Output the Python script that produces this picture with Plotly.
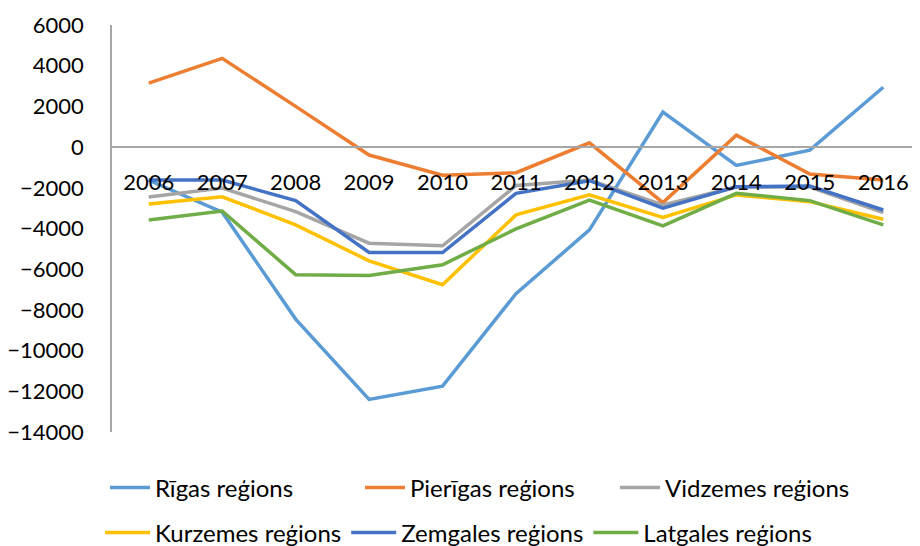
import plotly.graph_objects as go

years = ["2006", "2007", "2008", "2009", "2010", "2011", "2012", "2013", "2014", "2015", "2016"]

rigas = [-1630, -3200, -8450, -12400, -11750, -7200, -4070, 1720, -900, -150, 2940]
pierigas = [3140, 4360, 2000, -390, -1380, -1260, 210, -2730, 590, -1320, -1620]
vidzemes = [-2450, -2010, -3170, -4720, -4850, -1890, -1620, -2840, -1960, -1960, -3220]
kurzemes = [-2800, -2440, -3820, -5590, -6760, -3330, -2350, -3460, -2350, -2680, -3545]
zemgales = [-1620, -1620, -2630, -5180, -5180, -2270, -1650, -3000, -1950, -1910, -3090]
latgales = [-3580, -3140, -6270, -6310, -5780, -4020, -2600, -3870, -2270, -2630, -3820]

names = ["Rīgas reģions", "Pierīgas reģions", "Vidzemes reģions",
         "Kurzemes reģions", "Zemgales reģions", "Latgales reģions"]
series = [rigas, pierigas, vidzemes, kurzemes, zemgales, latgales]
colors = ["#5B9BD5", "#ED7D31", "#A5A5A5", "#FFC000", "#4472C4", "#70AD47"]
legend_ids = ["legend", "legend", "legend", "legend2", "legend2", "legend2"]

FONT = "Lato"
W, H = 912, 538  # page body adds an 8px offset

fig = go.Figure()
for name, vals, col, lg in zip(names, series, colors, legend_ids):
    fig.add_trace(go.Scatter(
        x=years, y=vals, name=name, mode="lines",
        line=dict(color=col, width=3.5),
        legend=lg,
    ))

fig.update_layout(
    width=W, height=H,
    margin=dict(l=104, r=0, t=17, b=114, autoexpand=False),
    paper_bgcolor="white", plot_bgcolor="white",
    font=dict(family=FONT, size=22, color="#000000"),
    xaxis=dict(
        type="category", range=[-0.5, 10.5],
        anchor="free", position=0.7,
        showline=True, linecolor="#A6A6A6", linewidth=1.5,
        showgrid=False, zeroline=False, ticks="",
        ticklabelstandoff=16, automargin=False,
        tickfont=dict(family=FONT, size=22, color="#000000"),
    ),
    yaxis=dict(
        range=[-14000, 6000], dtick=2000, tick0=0, tickformat="d",
        showline=True, linecolor="#A6A6A6", linewidth=1.5,
        showgrid=False, zeroline=False, ticks="",
        ticklabelstandoff=22, automargin=False,
        tickfont=dict(family=FONT, size=22, color="#000000"),
        domain=[0, 1],
    ),
    legend=dict(
        orientation="h", xref="container", yref="container",
        x=97 / W, xanchor="left",
        y=(H - 480) / H, yanchor="middle",
        entrywidth=200, itemwidth=40,
        font=dict(family=FONT, size=24, color="#000000"),
        bgcolor="rgba(0,0,0,0)",
    ),
    legend2=dict(
        orientation="h", xref="container", yref="container",
        x=92 / W, xanchor="left",
        y=(H - 525) / H, yanchor="middle",
        itemwidth=45,
        font=dict(family=FONT, size=24, color="#000000"),
        bgcolor="rgba(0,0,0,0)",
    ),
    showlegend=True,
)

fig.write_html("out.html")
